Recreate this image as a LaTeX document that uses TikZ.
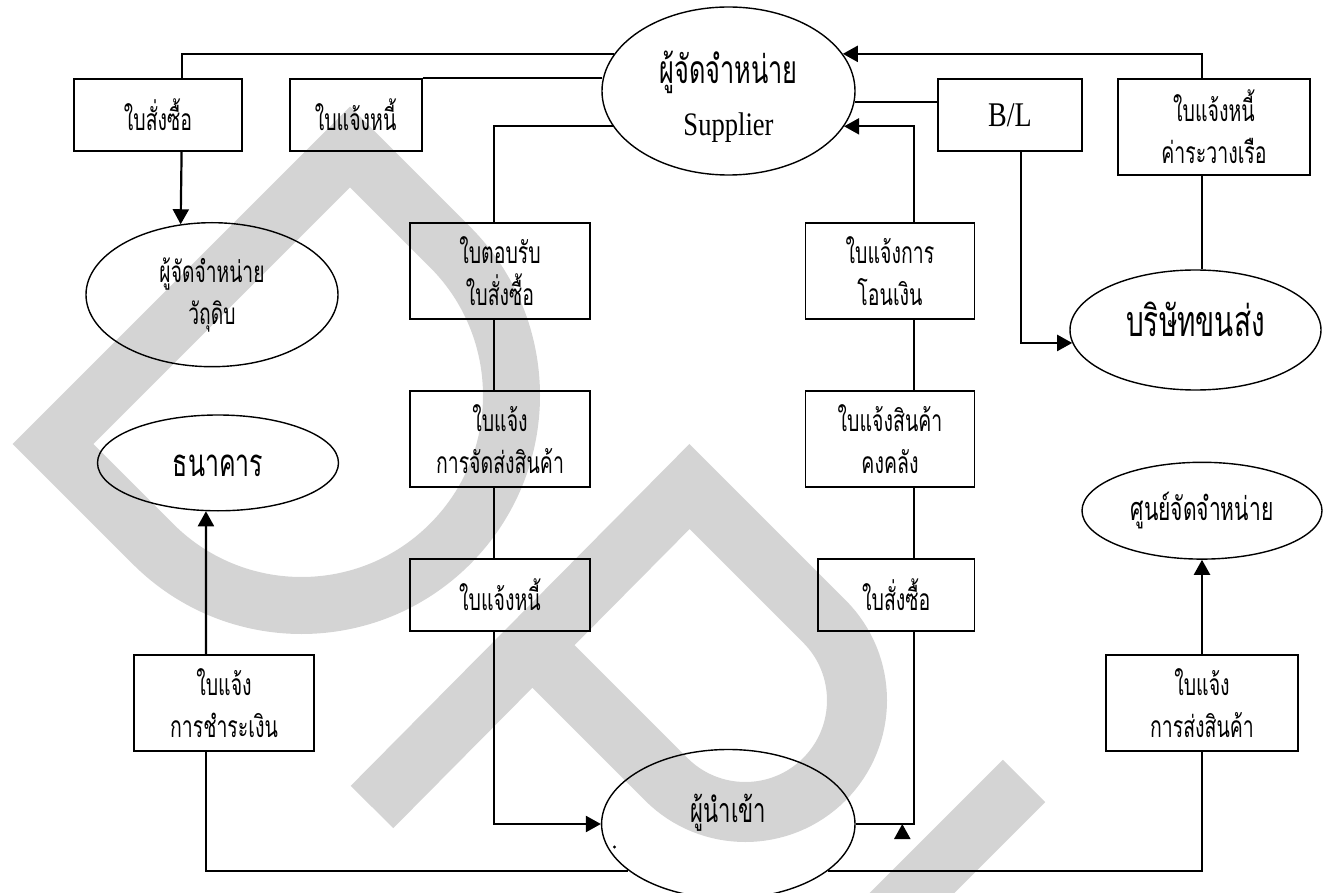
\documentclass[tikz,border=0pt]{standalone}
\usepackage{fontspec}
\setmainfont{Liberation Serif}
\newfontfamily\thai[Script=Thai, FakeStretch=0.65]{Loma}
\newfontfamily\latino[FakeStretch=0.81]{Liberation Serif}
\usepackage{tikz}
\usetikzlibrary{shapes.geometric, arrows.meta, calc}
\definecolor{grigioFiligrana}{RGB}{212,212,212}
\newcommand{\testoDoc}{\thai\fontsize{15}{21}\selectfont}

\begin{document}
\begin{tikzpicture}[x = 0.5pt, y = -0.5pt,
    doc/.style = {draw, line width = 0.9pt, inner sep = 0pt, align = center, font = \testoDoc},
    ente/.style = {draw, ellipse, line width = 0.7pt, inner sep = 0pt, align = center, font = \testoDoc},
    filo/.style = {line width = 0.9pt},
    freccia/.style = {line width = 1.1pt, -{Triangle[length = 7.5pt, width = 8pt]}},
    filigrana/.style = {draw = grigioFiligrana, line width = #1}]
    \useasboundingbox (0,0) rectangle (1334,893);
    % Filigrana
    \draw[filigrana = 28.5pt] (153,544) -- (53,444) -- (350,147) -- (450,247) .. controls (532,329) and (532,462) .. (450,544) .. controls (368,626) and (235,626) .. (153,544) -- cycle;
    \draw[filigrana = 30pt] (372,807) -- (689.5,486.5) -- (824.3,621.3) .. controls (867.9,664.9) and (867.9,735.7) .. (824.3,779.3) .. controls (780.7,822.9) and (709.9,822.9) .. (666.3,779.3) -- (531.5,644.5);
    \draw[filigrana = 30pt] (1024,781) -- (850,955);
    % Enti
    \node[ente, minimum width = 126.5pt, minimum height = 84pt, font = \thai\fontsize{19.5}{26}\selectfont] (fornitore) at (728.5,91) {\rule{0pt}{22pt}ผู้จัดจำหน่าย\\{\latino\fontsize{16.4}{26}\selectfont Supplier}};
    \node[ente, minimum width = 126pt, minimum height = 72pt, font = \thai\fontsize{14.8}{21}\selectfont] (fornMat) at (212,294.7) {ผู้จัดจำหน่าย\\วัถุดิบ};
    \node[ente, minimum width = 120.5pt, minimum height = 47.9pt, font = \thai\fontsize{19.2}{24}\selectfont] (banca) at (218,462.9) {\smash{\raisebox{-7pt}{ธนาคาร}}};
    \node[ente, minimum width = 125.5pt, minimum height = 60pt, font = \thai\fontsize{21.5}{26}\selectfont] (trasporto) at (1195.5,330) {\smash{\raisebox{-3.4pt}{บริษัทขนส่ง}}};
    \node[ente, minimum width = 120pt, minimum height = 48.4pt, font = \thai\fontsize{16.2}{21}\selectfont] (centroDistr) at (1202,510.7) {ศูนย์จัดจำหน่าย};
    \node[ente, minimum width = 126.7pt, minimum height = 74.5pt, font = \thai\fontsize{17}{21}\selectfont] (importatore) at (728.3,824) {\smash{\raisebox{0.6pt}{ผู้นำเข้า}}};
    % Documenti
    \node[doc, minimum width = 84pt, minimum height = 36pt] (ordine1) at (158,115) {ใบสั่งซื้อ};
    \node[doc, minimum width = 66pt, minimum height = 36pt] (fattura1) at (355.6,115) {ใบแจ้งหนี้};
    \node[doc, minimum width = 72pt, minimum height = 36pt, font = \latino\fontsize{17.3}{20}\selectfont] (bl) at (1010,115) {B/L};
    \node[doc, minimum width = 96pt, minimum height = 48pt] (nolo) at (1214,127) {ใบแจ้งหนี้\\ค่าระวางเรือ};
    \node[doc, minimum width = 90pt, minimum height = 48pt] (conferma) at (500,271) {ใบตอบรับ\\ใบสั่งซื้อ};
    \node[doc, minimum width = 90pt, minimum height = 48pt] (avviso) at (500,439) {ใบแจ้ง\\การจัดส่งสินค้า};
    \node[doc, minimum width = 90pt, minimum height = 36pt] (fattura2) at (500,595) {ใบแจ้งหนี้};
    \node[doc, minimum width = 84.5pt, minimum height = 48pt] (bonifico) at (890,271) {ใบแจ้งการ\\โอนเงิน};
    \node[doc, minimum width = 84.5pt, minimum height = 48pt] (giacenza) at (890,439) {ใบแจ้งสินค้า\\คงคลัง};
    \node[doc, minimum width = 78.25pt, minimum height = 36pt] (ordine2) at (896.25,595) {ใบสั่งซื้อ};
    \node[doc, minimum width = 90pt, minimum height = 48pt] (pagamento) at (224,702.7) {ใบแจ้ง\\การชำระเงิน};
    \node[doc, minimum width = 96pt, minimum height = 48pt] (spedizione) at (1202,702.7) {ใบแจ้ง\\การส่งสินค้า};
    % Colonne dei collegamenti
    \coordinate (colA) at (181.6,0);
    \coordinate (colP) at (205.9,0);
    \coordinate (colS) at (494,0);
    \coordinate (colD) at (914,0);
    \coordinate (colB) at (1021,0);
    \coordinate (colN) at (1202,0);
    \coordinate (puntaBase) at (902.3,839);
    \coordinate (puntaTip) at (902.3,824);
    % Collegamenti
    \draw[filo] (fornitore.162) -| (ordine1.north -| colA);
    \draw[freccia] (ordine1.south -| colA) -- (fornMat.114);
    \draw[filo] (fattura1.north east) -- (fattura1.north east -| fornitore.175);
    \draw[filo] (conferma.north -| colS) |- (fornitore.197);
    \draw[filo] (conferma.south -| colS) -- (avviso.north -| colS);
    \draw[filo] (avviso.south -| colS) -- (fattura2.north -| colS);
    \draw[freccia] (fattura2.south -| colS) |- (importatore.west);
    \draw[freccia] (bonifico.north -| colD) |- (fornitore.343);
    \draw[filo] (giacenza.north -| colD) -- (bonifico.south -| colD);
    \draw[filo] (ordine2.north -| colD) -- (giacenza.south -| colD);
    \draw[filo] (importatore.east) -| (ordine2.south -| colD);
    \draw[freccia] (puntaBase) -- (puntaTip);
    \draw[freccia] (nolo.north -| colN) |- (fornitore.18);
    \draw[filo] (nolo.south -| colN) -- (trasporto.north -| colN);
    \draw[filo] (bl.west |- fornitore.355) -- (fornitore.355);
    \draw[freccia] (bl.south -| colB) |- (trasporto.186);
    \draw[freccia] (pagamento.north -| colP) -- (banca.256);
    \draw[filo] (pagamento.south -| colP) |- (importatore.205);
    \draw[freccia] (spedizione.north) -- (centroDistr.south);
    \draw[filo] (spedizione.south) |- (importatore.335);
    \fill (614.5,847) circle (0.8pt);
\end{tikzpicture}
\end{document}
